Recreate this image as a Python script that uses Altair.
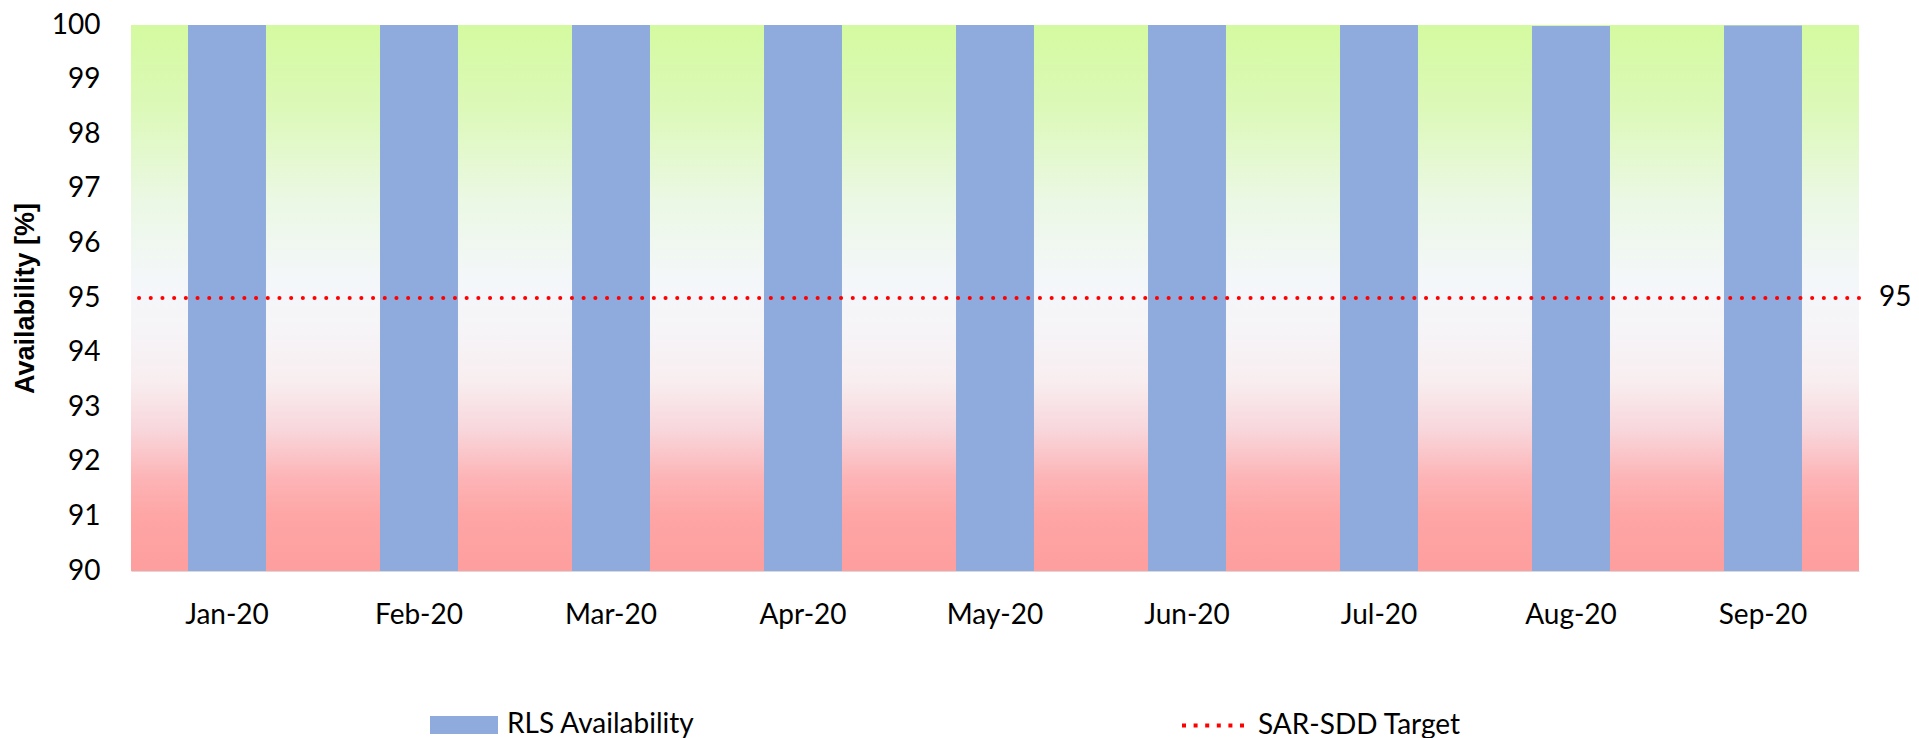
import altair as alt
import pandas as pd

months = ["Jan-20", "Feb-20", "Mar-20", "Apr-20", "May-20", "Jun-20", "Jul-20", "Aug-20", "Sep-20"]
availability = [100, 100, 100, 100, 100, 100, 100, 99.98, 99.99]
target = [95] * len(months)
y_ticks = [90, 91, 92, 93, 94, 95, 96, 97, 98, 99, 100]

df = pd.DataFrame({
    "month": months,
    "availability": availability,
    "target": target,
    "series": ["RLS Availability"] * len(months),
    "tseries": ["SAR-SDD Target"] * len(months),
})

W, H = 1728, 546
FONT = "Lato"
FS = 28

yscale = alt.Scale(domain=[90, 100], zero=False, nice=False)
xenc = alt.X("month:N", sort=months, title=None,
             scale=alt.Scale(paddingInner=0, paddingOuter=0),
             axis=alt.Axis(labelAngle=0, ticks=False, labelPadding=30, domainColor="#d9d9d9",
                           labelFont=FONT, labelFontSize=FS, labelColor="#000000"))

grad = alt.LinearGradient(
    gradient="linear", x1=0, x2=0, y1=0, y2=1,
    stops=[
        alt.GradientStop(color="#d4faa0", offset=0),
        alt.GradientStop(color="#dcf9b8", offset=0.15),
        alt.GradientStop(color="#ebf8e4", offset=0.32),
        alt.GradientStop(color="#f4f7fa", offset=0.47),
        alt.GradientStop(color="#f6f4f7", offset=0.56),
        alt.GradientStop(color="#f8eef0", offset=0.65),
        alt.GradientStop(color="#f8d7dc", offset=0.74),
        alt.GradientStop(color="#fdb4b6", offset=0.83),
        alt.GradientStop(color="#fea5a5", offset=0.9),
        alt.GradientStop(color="#fe9e9e", offset=1),
    ],
)

base = alt.Chart(df)

bg = base.mark_rect(fill=grad).encode(
    y=alt.datum(100, scale=yscale),
    y2=alt.datum(90),
)

bars = base.mark_bar(width=alt.RelativeBandSize(0.406)).encode(
    x=xenc,
    y=alt.Y("availability:Q", scale=yscale, title="Availability [%]",
            axis=alt.Axis(values=y_ticks, ticks=False, domain=False, grid=False, labelPadding=31,
                          labelFont=FONT, labelFontSize=FS, labelColor="#000000",
                          titleFont="Liberation Sans", titleFontSize=27, titleFontWeight="bold",
                          titleColor="#000000", titlePadding=12)),
    y2=alt.datum(90),
    color=alt.Color("series:N", scale=alt.Scale(domain=["RLS Availability"], range=["#8faadc"]),
                    legend=alt.Legend(title=None, orient="none", legendX=299, legendY=666,
                                      symbolType="M-1,-0.265L1,-0.265L1,0.265L-1,0.265Z",
                                      symbolSize=4624, symbolStrokeWidth=0, symbolOpacity=1,
                                      labelFont=FONT, labelFontSize=FS, labelColor="#000000",
                                      labelOffset=9, labelLimit=600)),
)

line = base.mark_rule(strokeWidth=4, strokeDash=[0.1, 11.6], strokeCap="round").encode(
    y=alt.Y("mean(target):Q", scale=yscale),
    color=alt.Color("tseries:N", scale=alt.Scale(domain=["SAR-SDD Target"], range=["#ff0000"]),
                    legend=alt.Legend(title=None, orient="none", legendX=1049, legendY=666,
                                      symbolType="stroke", symbolSize=4225, symbolStrokeWidth=4,
                                      symbolDash=[4, 7.6],
                                      labelFont=FONT, labelFontSize=FS, labelColor="#000000",
                                      labelOffset=9, labelLimit=600)),
)

label = base.mark_text(align="left", baseline="middle", font=FONT, fontSize=FS, color="#000000",
                       dx=20).encode(
    x=alt.value(W),
    y=alt.Y("mean(target):Q", scale=yscale),
    text=alt.Text("mean(target):Q", format="d"),
)

chart = alt.layer(bg, bars, line, label).resolve_scale(color="independent").resolve_legend(
    color="independent"
).properties(
    width=W, height=H, autosize="none",
    padding={"top": 17, "left": 123, "right": 52, "bottom": 175}
).configure_view(stroke=None)

chart.save("out.html", embed_options={"renderer": "svg", "actions": False})
